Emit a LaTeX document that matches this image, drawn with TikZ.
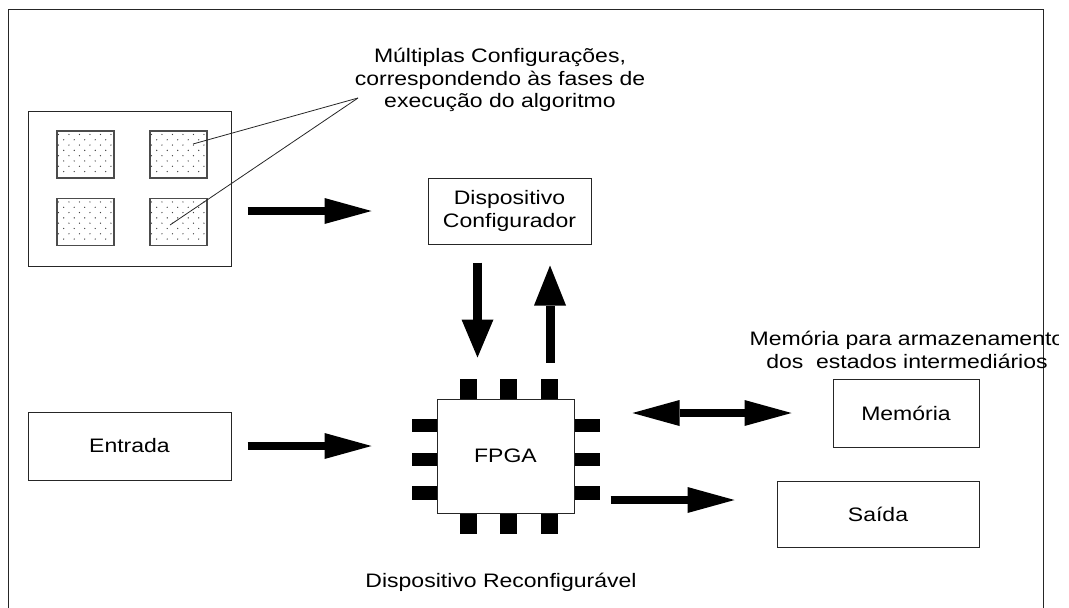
\documentclass[tikz,border=0pt]{standalone}
\usepackage{fontspec}
\setmainfont{Liberation Sans}[FakeStretch=1.18]
\usetikzlibrary{arrows.meta,calc}

\begin{document}
\begin{tikzpicture}[x=1pt,y=-1pt,
  every node/.style={font=\fontsize{19.5}{22.5}\selectfont, align=center},
  box/.style={draw=black!85, line width=1pt, inner sep=0pt},
  cell/.style={draw=black!70, line width=1.1pt, inner sep=0pt,
    minimum width=57pt, minimum height=47pt},
  label/.style={inner sep=0pt},
  leader/.style={line width=0.8pt, black!85},
  pin/.style={fill=black},
  dotc/.style={fill=black!75},
  flow/.style={line width=8.5pt,
    -{Triangle[length=47pt,width=26pt,line width=0pt]}},
  flowdown/.style={line width=9pt,
    -{Triangle[length=38pt,width=32pt,line width=0pt]}},
  flowup/.style={line width=9pt,
    -{Triangle[length=40pt,width=32pt,line width=0pt]}},
  flowboth/.style={line width=8.5pt,
    {Triangle[length=47pt,width=26pt,line width=0pt]}-{Triangle[length=47pt,width=26pt,line width=0pt]}},
]
\useasboundingbox (0,0) rectangle (1069,608);

% outer frame (open at the bottom)
\draw[line width=1pt, black!85] (8,608) -- (8,9) -- (1043,9) -- (1043,608);

% block of stored configurations
\node[box, minimum width=203pt, minimum height=155pt] (cfgs) at (129.5,188.5) {};
\node[cell] (q1) at (85.5,154.5) {};
\node[cell] (q2) at (178.5,154.5) {};
\node[cell] (q3) at (85.5,222) {};
\node[cell] (q4) at (178.5,222) {};
\foreach \q in {q1,q2,q3,q4}{
  \foreach \j in {0,...,7}{
    \pgfmathsetmacro\off{mod(\j,2)*5.25}
    \foreach \i in {0,...,5}{
      \pgfmathsetmacro\xx{2+\off+10.5*\i}
      \ifdim\xx pt<55pt
        \fill[dotc] ($(\q.north west)+(\xx,4+5.3*\j)$) circle[radius=0.7pt];
      \fi
    }
  }
}

% caption of the configurations with its leader lines
\node[label] (cfglbl) at (500,80)
  {Múltiplas Configurações,\\correspondendo às fases de\\execução do algoritmo};
\coordinate (callout) at (358,98);
\draw[leader] (callout) -- ($(q2.center)+(14.5,-10.5)$);
\draw[leader] (callout) -- ($(q4.center)+(-8.5,3)$);

% configurator
\node[box, minimum width=163pt, minimum height=66pt] (disp) at (509.5,211)
  {Dispositivo\\Configurador};

% input
\node[box, minimum width=203pt, minimum height=68pt] (entrada) at (129.5,446) {Entrada};

% FPGA chip with its pins
\node[box, minimum width=137pt, minimum height=114pt] (fpga) at (505.5,456) {FPGA};
\foreach \dx in {23.7,63.7,104.7}{
  \fill[pin] ($(fpga.north west)+(\dx,-20)$) rectangle ++(16.6,20);
  \fill[pin] ($(fpga.south west)+(\dx,0)$) rectangle ++(16.6,20);
}
\foreach \dy in {20.3,54.3,87.7}{
  \fill[pin] ($(fpga.north west)+(-25,\dy)$) rectangle ++(25,13.4);
  \fill[pin] ($(fpga.north east)+(0,\dy)$) rectangle ++(25,13.4);
}
\node[label, anchor=base] (reconf) at (501,587) {Dispositivo Reconfigurável};

% memory and output
\node[box, minimum width=146pt, minimum height=68pt] (mem) at (906,413) {Memória};
\node[box, minimum width=202pt, minimum height=66pt] (saida) at (878,514) {Saída};
\begin{scope}
  \clip (0,0) rectangle (1058,608);
  \node[label] (memlbl) at (907,350)
    {Memória para armazenamento\\dos\ \ estados intermediários};
\end{scope}

% data flow
\draw[flow] ([xshift=16pt]cfgs.east |- disp.west) -- ([xshift=-56pt]disp.west);
\draw[flowdown] ($(disp.south)+(-32,18)$) -- ($(fpga.north)+(-28,-41)$);
\draw[flowup] ($(fpga.north)+(44.5,-36)$) -- ($(disp.south)+(40.5,21)$);
\draw[flow] ([xshift=16pt]entrada.east) -- ([xshift=-65pt]fpga.west |- entrada.east);
\draw[flowboth] ([xshift=58pt]fpga.east |- mem.west) -- ([xshift=-41pt]mem.west);
\draw[flow] ($(fpga.east)+(36,44)$) -- ($(saida.west)+(-42,-14)$);
\end{tikzpicture}
\end{document}
